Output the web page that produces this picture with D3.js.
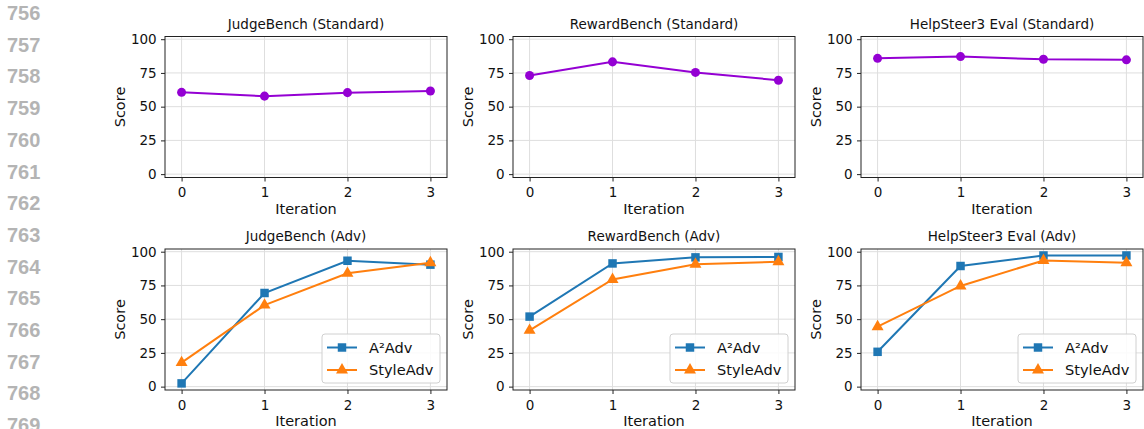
<!DOCTYPE html>
<html>
<head>
<meta charset="utf-8">
<script src="https://cdn.jsdelivr.net/npm/d3@7"></script>
<style>
  body { margin: 0; background: #fff; }
  svg { display: block; font-family: "DejaVu Sans", sans-serif; }
</style>
</head>
<body>
<svg id="chart" width="1144" height="429"></svg>
<script>
// data
const iterations = [0, 1, 2, 3];
const yTicks = [0, 25, 50, 75, 100];
const lineNumbers = [756, 757, 758, 759, 760, 761, 762, 763, 764, 765, 766, 767, 768, 769];

const stdTitles = ["JudgeBench (Standard)", "RewardBench (Standard)", "HelpSteer3 Eval (Standard)"];
const advTitles = ["JudgeBench (Adv)", "RewardBench (Adv)", "HelpSteer3 Eval (Adv)"];

const judgeStd = [60.6, 57.8, 60.4, 61.6];
const rewardStd = [73.1, 83.2, 75.4, 69.6];
const helpStd = [85.8, 87.1, 85.1, 84.7];

const judgeA2 = [2.4, 69.4, 93.3, 90.4];
const judgeStyle = [17.8, 60.4, 84.0, 91.8];
const rewardA2 = [51.9, 91.3, 95.8, 96.1];
const rewardStyle = [41.7, 79.4, 90.7, 92.6];
const helpA2 = [25.8, 89.4, 97.2, 97.2];
const helpStyle = [44.4, 74.6, 93.5, 91.8];

const seriesNames = ["A\u00b2Adv", "StyleAdv"];

const svg = d3.select("#chart");

// grey line numbers down the left margin
svg.append("g").selectAll("text")
  .data(lineNumbers)
  .join("text")
  .attr("x", 7)
  .attr("y", (d, i) => 20 + i * 31.7)
  .attr("font-family", "Liberation Sans, Arial, sans-serif")
  .attr("font-weight", "bold")
  .attr("font-size", 20)
  .attr("fill", "#b4b4b4")
  .text(d => d);

const panelLefts = [165, 513, 861];
const panelW = 282, panelH = 141;
const rowTops = [36.5, 249];

function drawPanel(left, top, title, series, showLegend) {
  const g = svg.append("g").attr("transform", `translate(${left},${top})`);
  const x = d3.scaleLinear().domain([-0.2, 3.2]).range([0, panelW]);
  const y = d3.scaleLinear().domain([-2.5, 102]).range([panelH, 0]);

  // grid
  g.append("g").selectAll("line.gy").data(yTicks).join("line")
    .attr("x1", 0).attr("x2", panelW)
    .attr("y1", d => y(d)).attr("y2", d => y(d))
    .attr("stroke", "#dedede").attr("stroke-width", 1);
  g.append("g").selectAll("line.gx").data(iterations).join("line")
    .attr("y1", 0).attr("y2", panelH)
    .attr("x1", d => x(d)).attr("x2", d => x(d))
    .attr("stroke", "#dedede").attr("stroke-width", 1);

  // axes
  const xAxis = g.append("g").attr("transform", `translate(0,${panelH})`)
    .call(d3.axisBottom(x).tickValues(iterations).tickFormat(d3.format("d")).tickSizeOuter(0).tickSize(4));
  const yAxis = g.append("g")
    .call(d3.axisLeft(y).tickValues(yTicks).tickSizeOuter(0).tickSize(4));
  [xAxis, yAxis].forEach(a => {
    a.select(".domain").remove();
    a.selectAll("text").attr("font-size", 13.5).attr("fill", "#111").attr("font-family", "DejaVu Sans");
    a.selectAll("line").attr("stroke", "#222");
  });
  xAxis.selectAll("text").attr("dy", "0.95em");
  yAxis.selectAll("text").attr("dx", "-0.1em");

  g.append("rect").attr("width", panelW).attr("height", panelH)
    .attr("fill", "none").attr("stroke", "#222").attr("stroke-width", 1);

  // lines + markers
  const line = d3.line().x((d, i) => x(iterations[i])).y(d => y(d));
  series.forEach(s => {
    g.append("path").datum(s.values)
      .attr("d", line).attr("fill", "none")
      .attr("stroke", s.color).attr("stroke-width", 2);
    const sym = d3.symbol().type(s.shape).size(s.size);
    g.append("g").selectAll("path").data(s.values).join("path")
      .attr("transform", (d, i) => `translate(${x(iterations[i])},${y(d)})`)
      .attr("d", sym).attr("fill", s.color);
  });

  g.append("text").attr("x", panelW / 2).attr("y", -8)
    .attr("text-anchor", "middle").attr("font-size", 13.5).attr("fill", "#111")
    .text(title);
  g.append("text").attr("x", panelW / 2).attr("y", panelH + 36)
    .attr("text-anchor", "middle").attr("font-size", 14.5).attr("fill", "#111")
    .text("Iteration");
  g.append("text")
    .attr("transform", `translate(-40,${panelH / 2}) rotate(-90)`)
    .attr("text-anchor", "middle").attr("font-size", 14.5).attr("fill", "#111")
    .text("Score");

  if (showLegend) {
    const lw = 118, lh = 49;
    const lg = g.append("g").attr("transform", `translate(${panelW - lw - 7},${panelH - lh - 7})`);
    lg.append("rect").attr("width", lw).attr("height", lh).attr("rx", 3)
      .attr("fill", "white").attr("fill-opacity", 0.85)
      .attr("stroke", "#d0d0d0").attr("stroke-width", 1);
    series.forEach((s, i) => {
      const cy = 13.5 + i * 22.5;
      lg.append("line").attr("x1", 5).attr("x2", 35).attr("y1", cy).attr("y2", cy)
        .attr("stroke", s.color).attr("stroke-width", 2);
      lg.append("path").attr("transform", `translate(20,${cy})`)
        .attr("d", d3.symbol().type(s.shape).size(s.size)).attr("fill", s.color);
      lg.append("text").attr("x", 47).attr("y", cy).attr("dy", "0.36em")
        .attr("font-size", 14.6).attr("fill", "#111").text(s.name);
    });
  }
}

const stdData = [judgeStd, rewardStd, helpStd];
const advData = [[judgeA2, judgeStyle], [rewardA2, rewardStyle], [helpA2, helpStyle]];

stdData.forEach((vals, i) => {
  drawPanel(panelLefts[i], rowTops[0], stdTitles[i],
    [{ values: vals, color: "#9400d3", shape: d3.symbolCircle, size: 64 }], false);
});
advData.forEach((pair, i) => {
  drawPanel(panelLefts[i], rowTops[1], advTitles[i], [
    { name: seriesNames[0], values: pair[0], color: "#1f77b4", shape: d3.symbolSquare, size: 72 },
    { name: seriesNames[1], values: pair[1], color: "#ff7f0e", shape: d3.symbolTriangle, size: 62 }
  ], true);
});
</script>
</body>
</html>
